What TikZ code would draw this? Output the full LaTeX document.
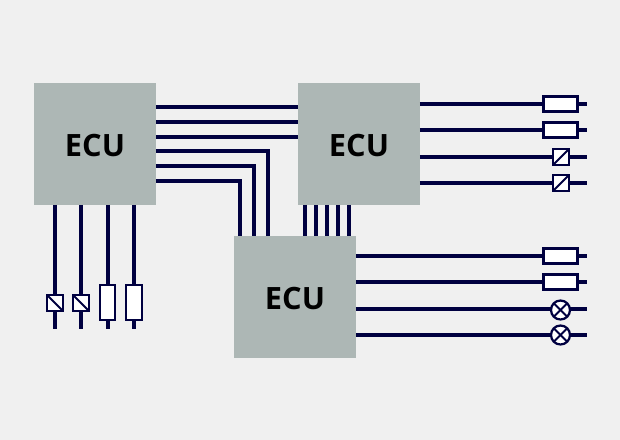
\documentclass[tikz,border=0pt]{standalone}
\usepackage{xcolor}
\usepackage{fontspec}
\setmainfont{Open Sans}
\usetikzlibrary{positioning}
\definecolor{wirenavy}{RGB}{0, 0, 64}
\definecolor{ecugray}{RGB}{173, 183, 181}
\definecolor{pagebg}{RGB}{240, 240, 240}

\begin{document}
\begin{tikzpicture}[
  x=0.02cm, y=-0.02cm,
  ecu/.style={fill=ecugray, minimum width=2.44cm, minimum height=2.44cm, inner sep=0pt, outer sep=0pt, text height=14.5pt, text depth=0pt, font=\fontsize{17.5}{20}\selectfont\bfseries, text=black},
  wire/.style={line width=0.08cm, color=wirenavy},
  part/.style={draw=wirenavy, fill=white, line width=0.045cm, inner sep=0pt, outer sep=0pt},
  mark line/.style={wirenavy, line width=0.04cm},
  fuse/.style={part, rectangle, minimum width=0.68cm, minimum height=0.30cm},
  fusev/.style={part, rectangle, minimum width=0.31cm, minimum height=0.71cm},
  relay/.style={part, rectangle, minimum width=0.31cm, minimum height=0.31cm},
  lamp/.style={part, circle, minimum size=0.38cm}
]
  \useasboundingbox[fill=pagebg] (0,0) rectangle (620,440);
  \node[ecu] (ecua) at (95,144) {ECU};
  \node[ecu] (ecub) at (359,144) {ECU};
  \node[ecu] (ecuc) at (295,297) {ECU};

  % ECU to ECU
  \foreach \y in {107,122,137}
    \draw[wire] (ecua.east |- 0,\y) -- (ecub.west |- 0,\y);
  \foreach \y/\x in {151/268,166/254,181/240}
    \draw[wire] (ecua.east |- 0,\y) -| (ecuc.north -| \x,0);
  \foreach \x in {305,316,327,338,349}
    \draw[wire] (ecub.south -| \x,0) -- (ecuc.north -| \x,0);

  % Loads on the right
  \node[fuse] (fusea) at (560.5,104) {};
  \node[fuse] (fuseb) at (560.5,130) {};
  \node[relay] (relaya) at (561,157) {};
  \node[relay] (relayb) at (561,183) {};
  \node[fuse] (fusec) at (560.5,256) {};
  \node[fuse] (fused) at (560.5,282) {};
  \node[lamp] (lampa) at (560.5,310) {};
  \node[lamp] (lampb) at (560.5,335) {};

  % Loads at the bottom left
  \node[relay] (relayc) at (55,303) {};
  \node[relay] (relayd) at (81,303) {};
  \node[fusev] (fusee) at (107.5,302.5) {};
  \node[fusev] (fusef) at (134,302.5) {};

  \foreach \n/\y in {fusea/104,fuseb/130,relaya/157,relayb/183} {
    \draw[wire] (ecub.east |- 0,\y) -- (\n.west |- 0,\y);
    \coordinate (end\n) at (587,\y);
    \draw[wire] (\n.east |- 0,\y) -- (end\n);
  }
  \foreach \n/\y in {fusec/256,fused/282,lampa/309,lampb/335} {
    \draw[wire] (ecuc.east |- 0,\y) -- (\n.west |- 0,\y);
    \coordinate (end\n) at (587,\y);
    \draw[wire] (\n.east |- 0,\y) -- (end\n);
  }
  \foreach \n/\x in {relayc/55,relayd/81,fusee/108,fusef/134} {
    \draw[wire] (ecua.south -| \x,0) -- (\n.north -| \x,0);
    \coordinate (end\n) at (\x,329);
    \draw[wire] (\n.south -| \x,0) -- (end\n);
  }

  % Symbol details
  \foreach \n in {relaya,relayb}
    \draw[mark line] (\n.south west) -- (\n.north east);
  \foreach \n in {relayc,relayd}
    \draw[mark line] (\n.north west) -- (\n.south east);
  \foreach \n in {lampa,lampb} {
    \draw[mark line] (\n.north west) -- (\n.south east);
    \draw[mark line] (\n.north east) -- (\n.south west);
  }
\end{tikzpicture}
\end{document}
